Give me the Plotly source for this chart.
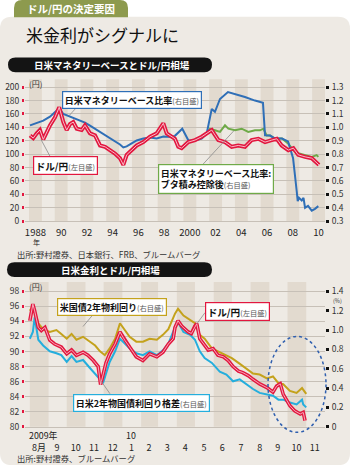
import plotly.graph_objects as go

# ---------------- data ----------------
# Chart 1 : USD/JPY (left axis, yen) and Japan/US monetary base ratio (right axis)
years_fx = [1988.08, 1988.33, 1988.60, 1988.85, 1989.11, 1989.63, 1990.02, 1990.35, 1990.67, 1990.93,
            1991.19, 1991.44, 1991.71, 1992.09, 1992.35, 1992.74, 1993.13, 1993.52, 1993.91, 1994.29,
            1994.68, 1995.07, 1995.33, 1995.59, 1995.98, 1996.37, 1996.88, 1997.40, 1997.92, 1998.44,
            1998.70, 1999.09, 1999.34, 1999.60, 1999.86, 2000.38, 2000.90, 2001.42, 2001.93, 2002.20,
            2002.71, 2003.23, 2003.75, 2004.26, 2004.78, 2005.30, 2005.82, 2006.34, 2006.86, 2007.25,
            2007.63, 2008.15, 2008.54, 2008.92, 2009.45, 2009.97, 2010.53]
usdjpy = [128, 124, 131, 136, 122, 143, 155, 170, 148, 136,
          145, 148, 138, 136, 143, 131, 128, 113, 111, 106,
          101, 94, 84, 99, 106, 113, 118, 126, 131, 146,
          131, 126, 123, 111, 109, 118, 121, 126, 133, 136,
          121, 118, 111, 113, 111, 121, 123, 118, 121, 123,
          113, 106, 109, 99, 96, 94, 84]

years_mb = [1988.08, 1988.60, 1989.11, 1989.63, 1990.02, 1990.35, 1990.67, 1991.19, 1991.71, 1992.35,
            1992.74, 1993.13, 1993.52, 1993.91, 1994.29, 1994.68, 1995.07, 1995.33, 1995.59, 1995.98,
            1996.37, 1996.88, 1997.40, 1997.92, 1998.44, 1999.09, 1999.34, 1999.91, 2000.38, 2000.90,
            2001.42, 2001.81, 2002.06, 2002.20, 2002.45, 2002.84, 2003.46, 2004.01, 2004.78, 2005.56,
            2005.95, 2006.18, 2006.34, 2006.73, 2007.12, 2007.66, 2008.13, 2008.52, 2008.80, 2008.88,
            2008.98, 2009.19, 2009.33, 2009.45, 2009.68, 2009.97, 2010.22, 2010.48]
mb_ratio = [1.015, 1.035, 1.05, 1.08, 1.116, 1.143, 1.10, 1.08, 1.057, 1.035,
            1.013, 0.99, 0.968, 0.939, 0.917, 0.895, 0.872, 0.85, 0.858, 0.88,
            0.902, 0.917, 0.924, 0.917, 0.931, 0.928, 0.937, 0.99, 0.904, 0.902,
            0.917, 0.954, 1.079, 1.138, 1.116, 1.212, 1.264, 1.249, 1.227, 1.2,
            1.19, 1.183, 0.941, 0.939, 0.917, 0.917, 0.895, 0.769, 0.525, 0.449,
            0.474, 0.454, 0.474, 0.40, 0.414, 0.378, 0.392, 0.412]

years_mb_adj = [2001.81, 2002.06, 2002.45, 2002.84, 2003.23, 2003.49, 2004.01, 2004.53, 2005.04, 2005.56,
                2005.95, 2006.21, 2006.47, 2006.73, 2007.12, 2007.66, 2008.13, 2008.54, 2008.92, 2009.45,
                2009.97, 2010.35, 2010.48]
mb_ratio_adj = [0.954, 0.99, 0.978, 0.966, 1.015, 0.99, 0.978, 0.99, 0.966, 0.978,
                0.978, 0.99, 0.939, 0.939, 0.917, 0.917, 0.88, 0.83, 0.808, 0.796,
                0.78, 0.793, 0.78]

c1_tickvals = [1988.5, 1990.5, 1992.5, 1994.5, 1996.5, 1998.5, 2000.5, 2002.5, 2004.5, 2006.5, 2008.5, 2010.5]
c1_ticktext = ["1988", "90", "92", "94", "96", "98", "2000", "02", "04", "06", "08", "10"]
c1_left_ticks = [0, 20, 40, 60, 80, 100, 120, 140, 160, 180, 200]
c1_right_ticks = [0.3, 0.4, 0.5, 0.6, 0.7, 0.8, 0.9, 1.0, 1.1, 1.2, 1.3]

# Chart 2 : USD/JPY (left), US 2y yield and US-Japan 2y spread (right, %)
fx_dates = ["2009-08-01", "2009-08-06", "2009-08-09", "2009-08-15", "2009-08-20", "2009-08-26",
            "2009-09-03", "2009-09-11", "2009-09-22", "2009-10-01", "2009-10-09", "2009-10-17",
            "2009-10-28", "2009-11-05", "2009-11-14", "2009-11-22", "2009-11-26", "2009-11-30",
            "2009-12-05", "2009-12-11", "2009-12-20", "2009-12-28", "2010-01-05", "2010-01-13",
            "2010-01-24", "2010-02-04", "2010-02-15", "2010-02-27", "2010-03-09", "2010-03-18",
            "2010-03-26", "2010-03-29", "2010-04-03", "2010-04-09", "2010-04-20", "2010-04-25",
            "2010-05-01", "2010-05-04", "2010-05-09", "2010-05-15", "2010-05-23", "2010-05-31",
            "2010-06-08", "2010-06-17", "2010-06-25", "2010-07-03", "2010-07-12", "2010-07-19",
            "2010-07-28", "2010-08-05", "2010-08-16", "2010-08-28", "2010-09-07", "2010-09-13",
            "2010-09-19", "2010-09-24", "2010-10-05", "2010-10-13", "2010-10-22", "2010-10-27",
            "2010-10-30"]
fx_values = [94.1, 96.3, 95.4, 93.2, 92.8, 93.2, 91.5, 91.0, 90.6, 89.7, 90.2, 89.5,
             89.9, 89.5, 88.8, 88.0, 85.6, 86.9, 88.5, 89.7, 91.0, 92.6, 91.5, 90.6,
             89.3, 88.8, 89.7, 89.3, 89.9, 91.0, 91.7, 93.2, 94.1, 93.4, 92.6, 92.4,
             93.4, 93.7, 91.7, 91.0, 90.2, 90.4, 89.5, 89.3, 88.8, 88.0, 87.4, 87.2,
             86.8, 86.3, 85.7, 85.2, 84.6, 85.4, 85.7, 84.3, 82.8, 82.1, 81.7, 81.9,
             80.8]

us2y_dates = ["2009-08-01", "2009-08-06", "2009-08-15", "2009-08-23", "2009-09-03", "2009-09-14",
              "2009-09-22", "2009-10-01", "2009-10-09", "2009-10-17", "2009-10-28", "2009-11-08",
              "2009-11-17", "2009-11-25", "2009-12-03", "2009-12-11", "2009-12-20", "2009-12-28",
              "2010-01-05", "2010-01-13", "2010-01-24", "2010-02-04", "2010-02-15", "2010-02-27",
              "2010-03-09", "2010-03-18", "2010-03-29", "2010-04-03", "2010-04-12", "2010-04-23",
              "2010-05-01", "2010-05-09", "2010-05-17", "2010-05-29", "2010-06-08", "2010-06-20",
              "2010-07-01", "2010-07-12", "2010-07-23", "2010-08-05", "2010-08-16", "2010-08-28",
              "2010-09-07", "2010-09-16", "2010-09-24", "2010-10-05", "2010-10-16", "2010-10-25",
              "2010-11-01"]
us2y_values = [1.20, 1.25, 1.07, 1.01, 0.98, 1.00, 0.96, 0.91, 0.96, 0.90, 0.93, 0.88,
               0.84, 0.78, 0.74, 0.81, 0.91, 1.07, 1.00, 0.93, 0.88, 0.88, 0.91, 0.90,
               0.95, 1.01, 1.17, 1.22, 1.15, 1.10, 1.07, 0.95, 0.91, 0.81, 0.78, 0.74,
               0.71, 0.66, 0.61, 0.55, 0.54, 0.50, 0.52, 0.45, 0.44, 0.37, 0.35, 0.40,
               0.34]

spread_dates = ["2009-08-01", "2009-08-06", "2009-08-09", "2009-08-15", "2009-08-23", "2009-09-03",
                "2009-09-14", "2009-09-22", "2009-10-01", "2009-10-09", "2009-10-17", "2009-10-28",
                "2009-11-08", "2009-11-17", "2009-11-25", "2009-11-30", "2009-12-11", "2009-12-20",
                "2009-12-28", "2010-01-05", "2010-01-13", "2010-01-24", "2010-02-04", "2010-02-15",
                "2010-02-27", "2010-03-09", "2010-03-18", "2010-03-29", "2010-04-03", "2010-04-12",
                "2010-04-23", "2010-05-01", "2010-05-09", "2010-05-17", "2010-05-29", "2010-06-08",
                "2010-06-11", "2010-06-22", "2010-07-03", "2010-07-14", "2010-07-25", "2010-08-05",
                "2010-08-16", "2010-08-28", "2010-09-07", "2010-09-16", "2010-09-24", "2010-10-05",
                "2010-10-16", "2010-10-25", "2010-10-27", "2010-11-01"]
spread_values = [0.91, 0.98, 1.13, 0.90, 0.84, 0.78, 0.76, 0.74, 0.67, 0.73, 0.67, 0.69,
                 0.61, 0.55, 0.49, 0.45, 0.67, 0.78, 0.91, 0.86, 0.81, 0.76, 0.74, 0.78,
                 0.74, 0.79, 0.86, 1.03, 1.08, 0.98, 0.95, 0.90, 0.78, 0.71, 0.66, 0.59,
                 0.57, 0.54, 0.47, 0.49, 0.44, 0.39, 0.35, 0.33, 0.32, 0.28, 0.28, 0.25,
                 0.23, 0.28, 0.23, 0.20]

c2_tickvals = ["2009-08-16", "2009-09-15", "2009-10-16", "2009-11-15", "2009-12-16", "2010-01-16",
               "2010-02-14", "2010-03-16", "2010-04-15", "2010-05-16", "2010-06-15", "2010-07-16",
               "2010-08-16", "2010-09-15", "2010-10-16", "2010-11-15"]
c2_ticktext = ["8月", "9", "10", "11", "12", "1", "2", "3", "4", "5", "6", "7", "8", "9", "10", "11"]
c2_year_labels = ["2009年", "10"]
c2_stripe_months = [("2009-08-01", "2009-09-01"), ("2009-10-01", "2009-11-01"), ("2009-12-01", "2010-01-01"),
                    ("2010-02-01", "2010-03-01"), ("2010-04-01", "2010-05-01"), ("2010-06-01", "2010-07-01"),
                    ("2010-08-01", "2010-09-01"), ("2010-10-01", "2010-11-01")]
c2_left_ticks = [80, 82, 84, 86, 88, 90, 92, 94, 96, 98]
c2_right_ticks = [0, 0.2, 0.4, 0.6, 0.8, 1.0, 1.2, 1.4]
c2_right_text = ["0", "0.2", "0.4", "0.6", "0.8", "1.0", "1.2", "1.4"]

# ---------------- styles ----------------
F = "Noto Sans CJK JP"
W, H = 350, 472
PANEL = "#EEEAE4"
STRIPE = "#E2DACF"
GRID = "#C7C0B7"
RED = "#E2173F"
RED_IN = "#F8B9C6"
BLUE = "#2F6FB7"
GREEN = "#6FAA48"
GOLD = "#C4A21C"
CYAN = "#25AEDD"
OLIVE = "#8D9A4E"


def px(x):
    return x / W


def py(y):
    return 1 - y / H


def rrect(x0, y0, x1, y1, r, top_only=False):
    rb = 0 if top_only else r
    pts = [
        f"M {px(x0 + r)} {py(y0)}",
        f"L {px(x1 - r)} {py(y0)}",
        f"Q {px(x1)} {py(y0)} {px(x1)} {py(y0 + r)}",
        f"L {px(x1)} {py(y1 - rb)}",
        f"Q {px(x1)} {py(y1)} {px(x1 - rb)} {py(y1)}",
        f"L {px(x0 + rb)} {py(y1)}",
        f"Q {px(x0)} {py(y1)} {px(x0)} {py(y1 - rb)}",
        f"L {px(x0)} {py(y0 + r)}",
        f"Q {px(x0)} {py(y0)} {px(x0 + r)} {py(y0)}",
        "Z",
    ]
    return " ".join(pts)


fig = go.Figure()

# Chart 1 traces (right axis = y, left axis = y2 overlay so the yen line is on top)
fig.add_trace(go.Scatter(x=years_mb_adj, y=mb_ratio_adj, xaxis="x", yaxis="y", mode="lines",
                         line=dict(color=GREEN, width=2), hoverinfo="skip"))
fig.add_trace(go.Scatter(x=years_mb, y=mb_ratio, xaxis="x", yaxis="y", mode="lines",
                         line=dict(color=BLUE, width=2), hoverinfo="skip"))
fig.add_trace(go.Scatter(x=years_fx, y=usdjpy, xaxis="x", yaxis="y2", mode="lines",
                         line=dict(color=RED, width=4), hoverinfo="skip"))
fig.add_trace(go.Scatter(x=years_fx, y=usdjpy, xaxis="x", yaxis="y2", mode="lines",
                         line=dict(color=RED_IN, width=1), hoverinfo="skip"))

# Chart 2 traces (right axis = y3, left axis = y4 overlay)
fig.add_trace(go.Scatter(x=spread_dates, y=spread_values, xaxis="x2", yaxis="y3", mode="lines",
                         line=dict(color=CYAN, width=2), hoverinfo="skip"))
fig.add_trace(go.Scatter(x=us2y_dates, y=us2y_values, xaxis="x2", yaxis="y3", mode="lines",
                         line=dict(color=GOLD, width=2), hoverinfo="skip"))
fig.add_trace(go.Scatter(x=fx_dates, y=fx_values, xaxis="x2", yaxis="y4", mode="lines",
                         line=dict(color=RED, width=3.6), hoverinfo="skip"))
fig.add_trace(go.Scatter(x=fx_dates, y=fx_values, xaxis="x2", yaxis="y4", mode="lines",
                         line=dict(color=RED_IN, width=0.9), hoverinfo="skip"))

dom_x = [25 / W, 325 / W]
dom_y1 = [py(223.5), py(80)]
dom_y2 = [py(431.3), py(285)]
tickf = dict(family=F, size=8.5, color="#333")

fig.update_layout(
    width=W, height=H, autosize=False,
    margin=dict(l=0, r=0, t=0, b=0, pad=0),
    paper_bgcolor="white", plot_bgcolor="rgba(0,0,0,0)",
    showlegend=False, hovermode=False,
    font=dict(family=F, color="#222"),
    xaxis=dict(domain=dom_x, anchor="y", range=[1987.69, 2011.0], tickvals=c1_tickvals,
               ticktext=c1_ticktext, ticks="", showgrid=False, zeroline=False, tickangle=0,
               showline=True, linecolor=GRID, linewidth=1,
               tickfont=dict(family=F, size=9.5, color="#222"), ticklabelstandoff=2),
    yaxis=dict(domain=dom_y1, anchor="x", side="right", range=[0.3, 1.36], tickvals=c1_right_ticks,
               ticktext=[f"{v:.1f}" for v in c1_right_ticks], showgrid=False, zeroline=False,
               ticks="outside", ticklen=3, tickwidth=3, tickcolor="#111", tickfont=tickf,
               ticklabelstandoff=1),
    yaxis2=dict(overlaying="y", anchor="x", side="left", range=[0, 212], tickvals=c1_left_ticks,
                showgrid=True, gridcolor=GRID, gridwidth=1, zeroline=False,
                ticks="outside", ticklen=2, tickwidth=3, tickcolor=RED, tickfont=tickf,
                ticklabelstandoff=1),
    xaxis2=dict(domain=dom_x, anchor="y3", type="date", range=["2009-07-24", "2010-12-02"],
                tickvals=c2_tickvals, ticktext=c2_ticktext, ticks="", showgrid=False, zeroline=False,
                tickangle=0, showline=True, linecolor=GRID, linewidth=1,
                tickfont=dict(family=F, size=9, color="#222"), ticklabelstandoff=12),
    yaxis3=dict(domain=dom_y2, anchor="x2", side="right", range=[0, 1.497], tickvals=c2_right_ticks,
                ticktext=c2_right_text, showgrid=False, zeroline=False,
                ticks="outside", ticklen=3, tickwidth=3, tickcolor="#111", tickfont=tickf,
                ticklabelstandoff=1),
    yaxis4=dict(overlaying="y3", anchor="x2", side="left", range=[80, 99.25], tickvals=c2_left_ticks,
                showgrid=True, gridcolor=GRID, gridwidth=1, zeroline=False,
                ticks="outside", ticklen=2, tickwidth=3, tickcolor=RED, tickfont=tickf,
                ticklabelstandoff=1),
)

shapes = []
# background panel and tab
shapes.append(dict(type="path", path=rrect(0, 17, 350, 470, 12), xref="paper", yref="paper",
                   fillcolor=PANEL, line=dict(width=0), layer="below"))
shapes.append(dict(type="path", path=rrect(14, 0, 128, 17.5, 8, top_only=True), xref="paper", yref="paper",
                   fillcolor=OLIVE, line=dict(width=0), layer="below"))
# header pills
shapes.append(dict(type="path", path=rrect(8, 58, 212, 73, 7.5), xref="paper", yref="paper",
                   fillcolor="#141414", line=dict(width=0), layer="below"))
shapes.append(dict(type="path", path=rrect(7, 265, 212, 280, 7.5), xref="paper", yref="paper",
                   fillcolor="#141414", line=dict(width=0), layer="below"))
# year stripes chart 1
for yr in range(1988, 2011, 2):
    shapes.append(dict(type="rect", xref="x", yref="y domain", x0=yr, x1=min(yr + 1, 2011.0), y0=0, y1=1,
                       fillcolor=STRIPE, line=dict(width=0), layer="below"))
# month stripes chart 2
for a, b in c2_stripe_months:
    shapes.append(dict(type="rect", xref="x2", yref="y3 domain", x0=a, x1=b, y0=0, y1=1,
                       fillcolor=STRIPE, line=dict(width=0), layer="below"))
# leader lines
for (x0, y0, x1, y1) in [(78, 107, 69, 117), (50, 158, 41, 141), (203, 166, 234, 132),
                         (98, 312, 83, 330), (205, 316, 197, 327), (110, 398, 101, 385)]:
    shapes.append(dict(type="line", xref="paper", yref="paper", x0=px(x0), y0=py(y0), x1=px(x1), y1=py(y1),
                       line=dict(color="#8a8a8a", width=0.8)))
# dotted ellipse
shapes.append(dict(type="circle", xref="paper", yref="paper", x0=px(268), x1=px(326), y0=py(437), y1=py(340),
                   line=dict(color="#2F5FAF", width=1.5, dash="dot")))
fig.update_layout(shapes=shapes)

ann = []


def text(t, x, y, size, color="#222", xanchor="left", yanchor="middle", bold=False):
    if bold:
        t = f"<b>{t}</b>"
    ann.append(dict(text=t, x=px(x), y=py(y), xref="paper", yref="paper", xanchor=xanchor, yanchor=yanchor,
                    showarrow=False, font=dict(family=F, size=size, color=color)))


def box(t, x, y, color, size=9.0):
    ann.append(dict(text=t, x=px(x), y=py(y), xref="paper", yref="paper", xanchor="left", yanchor="top",
                    showarrow=False, align="left", bgcolor="white", bordercolor=color, borderwidth=1.2,
                    borderpad=1.5, font=dict(family=F, size=size, color="#111")))


SM = "<span style='font-size:7.3px;color:#555'>"
text("ドル/円の決定要因", 71, 9, 10.5, color="white", xanchor="center", bold=True)
text("米金利がシグナルに", 24, 35, 17, color="#111")
text("日米マネタリーベースとドル/円相場", 112, 65.5, 9.5, color="white", xanchor="center", bold=True)
text("日米金利とドル/円相場", 110, 272.5, 9.5, color="white", xanchor="center", bold=True)
text("(円)", 27, 84, 8, color="#333")
text("(円)", 27, 290, 8, color="#333")
text("(%)", 331, 304.5, 5.5, color="#333")
text("年", 36.5, 245, 7, color="#222", xanchor="center")
# year labels above month labels (chart 2)
ann.append(dict(text=c2_year_labels[0], x="2009-07-27", y=0, xref="x2", yref="y3 domain", xanchor="left",
                yanchor="top", yshift=0, showarrow=False, font=dict(family=F, size=8.8, color="#222")))
ann.append(dict(text=c2_year_labels[1], x="2010-01-16", y=0, xref="x2", yref="y3 domain", xanchor="center",
                yanchor="top", yshift=0, showarrow=False, font=dict(family=F, size=8.8, color="#222")))
text("出所:野村證券、日本銀行、FRB、ブルームバーグ", 15, 256.5, 8.3, color="#333")
text("出所:野村證券、ブルームバーグ", 15, 462.5, 8.3, color="#333")

box(f"<b>日米マネタリーベース比率</b>{SM}(右目盛)</span>", 62, 92, BLUE)
box(f"<b>ドル/円</b>{SM}(左目盛)</span>", 33, 158, RED, size=9.6)
box(f"<b>日米マネタリーベース比率:</b><br><b>ブタ積み控除後</b>{SM}(右目盛)</span>", 158, 166, GREEN)
box(f"<b>米国債2年物利回り</b>{SM}(右目盛)</span>", 57, 301, GOLD)
box(f"<b>ドル/円</b>{SM}(左目盛)</span>", 205, 305, RED, size=9.6)
box(f"<b>日米2年物国債利回り格差</b>{SM}(右目盛)</span>", 73, 398, CYAN)

fig.update_layout(annotations=ann)

fig.write_html("out.html")
